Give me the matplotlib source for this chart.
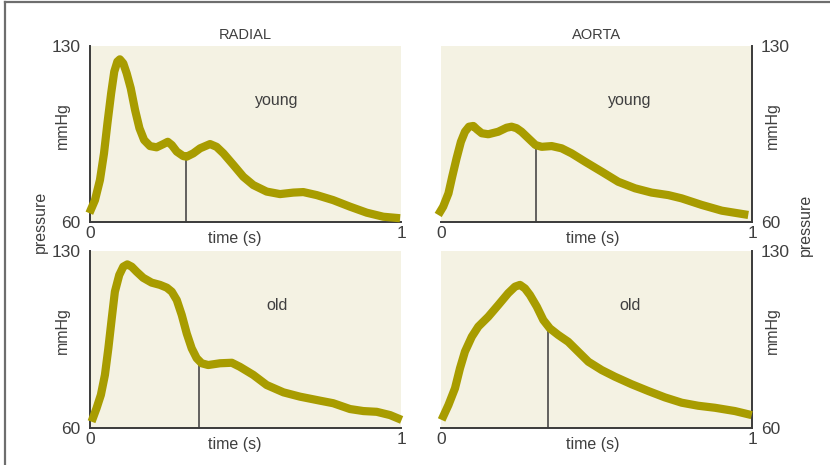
import matplotlib
matplotlib.use("Agg")
import matplotlib.pyplot as plt
from matplotlib.lines import Line2D

plt.rcParams['font.family'] = ['Liberation Sans', 'DejaVu Sans']

# ---- data (time in s, pressure in mmHg) ----
radial_young_t = [-0.002, 0.016, 0.032, 0.045, 0.056, 0.068, 0.078, 0.088, 0.096, 0.107, 0.118,
                  0.131, 0.145, 0.159, 0.174, 0.193, 0.214, 0.236, 0.250, 0.263, 0.279, 0.300,
                  0.311, 0.332, 0.354, 0.386, 0.407, 0.429, 0.461, 0.493, 0.525, 0.568, 0.611,
                  0.654, 0.686, 0.729, 0.782, 0.836, 0.890, 0.943, 0.997]
radial_young_p = [63.5, 68.7, 76.7, 87.3, 99.2, 111.2, 119.8, 123.8, 124.7, 123.1, 119.1,
                  113.2, 104.5, 97.3, 92.6, 90.2, 89.7, 91.0, 91.9, 90.6, 88.0, 86.2,
                  86.0, 87.3, 89.3, 91.0, 89.9, 87.3, 82.7, 78.0, 74.7, 72.1, 71.1,
                  71.7, 71.9, 70.7, 68.7, 66.1, 63.7, 62.1, 61.5]

aorta_young_t = [-0.009, 0.007, 0.024, 0.036, 0.050, 0.064, 0.077, 0.090, 0.104, 0.115, 0.131,
                 0.152, 0.184, 0.211, 0.227, 0.243, 0.259, 0.281, 0.304, 0.324, 0.356, 0.388,
                 0.420, 0.463, 0.517, 0.570, 0.624, 0.677, 0.731, 0.774, 0.838, 0.903, 0.988]
aorta_young_p = [62.8, 66.1, 71.4, 78.0, 85.3, 91.9, 95.9, 97.9, 98.2, 96.9, 95.3,
                 94.9, 95.9, 97.5, 97.9, 97.3, 95.9, 93.3, 90.6, 89.9, 90.2, 89.3,
                 87.3, 84.0, 80.0, 76.0, 73.4, 71.7, 70.7, 69.4, 66.8, 64.5, 62.8]

radial_old_t = [0.005, 0.021, 0.035, 0.048, 0.059, 0.070, 0.080, 0.094, 0.107, 0.120, 0.134,
                0.150, 0.171, 0.198, 0.225, 0.247, 0.263, 0.279, 0.295, 0.311, 0.327, 0.343,
                0.359, 0.380, 0.418, 0.456, 0.482, 0.525, 0.568, 0.622, 0.675, 0.740, 0.782,
                0.836, 0.879, 0.922, 0.965, 1.002]
radial_old_p = [62.5, 67.8, 73.1, 81.0, 91.5, 103.4, 113.9, 120.5, 123.8, 124.7, 123.8,
                121.8, 119.4, 117.5, 116.6, 115.5, 113.9, 110.6, 104.7, 97.4, 91.5, 87.6,
                85.6, 84.9, 85.6, 85.8, 84.2, 81.0, 77.0, 74.1, 72.4, 70.8, 69.8,
                67.5, 66.7, 66.4, 65.1, 63.2]

aorta_old_t = [0.002, 0.024, 0.045, 0.061, 0.077, 0.099, 0.120, 0.152, 0.184, 0.216, 0.238,
               0.254, 0.270, 0.286, 0.308, 0.329, 0.350, 0.377, 0.409, 0.441, 0.474, 0.517,
               0.559, 0.613, 0.667, 0.720, 0.774, 0.827, 0.881, 0.945, 0.999]
aorta_old_p = [63.2, 69.1, 75.7, 83.6, 90.2, 96.1, 100.1, 104.0, 108.6, 113.3, 115.9,
               116.6, 115.2, 112.6, 108.0, 102.7, 99.4, 96.8, 94.1, 90.2, 86.2, 82.9,
               80.3, 77.3, 74.6, 72.1, 70.0, 68.8, 68.0, 66.7, 65.1]

# dicrotic notch markers (time, pressure)
notch_t = [0.308, 0.305, 0.350, 0.344]
notch_p = [86.0, 90.0, 85.7, 98.8]

titles = ["RADIAL", "AORTA"]
groups = ["young", "old"]
x_ticks = [0, 1]
y_ticks = [60, 130]

LINE = '#a89c00'
BG = '#f4f2e3'
TXT = '#3f3f3f'
SPINE = '#3a3a3a'

fig = plt.figure(figsize=(8.3, 4.65), dpi=100)

W, H = 830, 465
def pos(x0, x1, ytop, ybot):
    return [x0 / W, 1 - ybot / H, (x1 - x0) / W, (ybot - ytop) / H]

boxes = {
    (0, 0): pos(90, 401, 46, 222),
    (0, 1): pos(441, 752, 46, 222),
    (1, 0): pos(90, 401, 251, 428),
    (1, 1): pos(441, 752, 251, 428),
}
series = {
    (0, 0): (radial_young_t, radial_young_p),
    (0, 1): (aorta_young_t, aorta_young_p),
    (1, 0): (radial_old_t, radial_old_p),
    (1, 1): (aorta_old_t, aorta_old_p),
}

k = 0
for r in range(2):
    for c in range(2):
        ax = fig.add_axes(boxes[(r, c)])
        ax.set_facecolor(BG)
        ax.set_xlim(0, 1)
        ax.set_ylim(60, 130)
        t, p = series[(r, c)]
        ax.vlines(notch_t[k], 60, notch_p[k], color=SPINE, lw=1.1, zorder=2)
        ax.plot(t, p, color=LINE, lw=5.9, solid_capstyle='butt', solid_joinstyle='round',
                clip_on=False, zorder=3)
        k += 1
        for s in ax.spines.values():
            s.set_visible(False)
        ax.spines['bottom'].set_visible(True)
        ax.spines['bottom'].set_color(SPINE)
        ax.spines['bottom'].set_linewidth(1.4)
        side = 'left' if c == 0 else 'right'
        ax.spines[side].set_visible(True)
        ax.spines[side].set_color(SPINE)
        ax.spines[side].set_linewidth(1.4)
        if c == 1:
            ax.yaxis.tick_right()
        ax.set_xticks(x_ticks)
        ax.set_xticklabels([str(v) for v in x_ticks])
        ax.set_yticks(y_ticks)
        ax.set_yticklabels([str(v) for v in y_ticks])
        ax.tick_params(length=0, labelsize=12.5, colors=TXT)
        ax.tick_params(axis='y', pad=7 if c == 0 else 6.5)
        ax.tick_params(axis='x', pad=3)
        ax.set_xlabel("time (s)", fontsize=11.5, color=TXT)
        ax.xaxis.set_label_coords(0.465 if c == 0 else 0.487, -0.05, transform=ax.transAxes)
        ax.xaxis.label.set_va('top')
        ax.text(0.6 if c == 0 else 0.607, 0.69, groups[r],
                transform=ax.transAxes, ha='center', va='center', fontsize=11.5, color=TXT)
        if r == 0:
            ax.set_title(titles[c], fontsize=10.5, color=TXT, pad=5)
        ax.text(-0.09 if c == 0 else 1.065, 0.55, "mmHg", transform=ax.transAxes,
                rotation=90, ha='center', va='center', fontsize=11.5, color=TXT)

fig.text(40 / W, 1 - 222 / H, "pressure", rotation=90, ha='center', va='center',
         fontsize=11.5, color=TXT)
fig.text(805 / W, 1 - 225 / H, "pressure", rotation=90, ha='center', va='center',
         fontsize=11.5, color=TXT)

# outer frame (top and left edges)
fig.add_artist(Line2D([5 / W, 5 / W], [0, 1 - 2 / H], transform=fig.transFigure,
                      color='#6e6e6e', lw=1.6))
fig.add_artist(Line2D([5 / W, 1], [1 - 2 / H, 1 - 2 / H], transform=fig.transFigure,
                      color='#6e6e6e', lw=1.6))

fig.savefig("out.png", dpi=100)
